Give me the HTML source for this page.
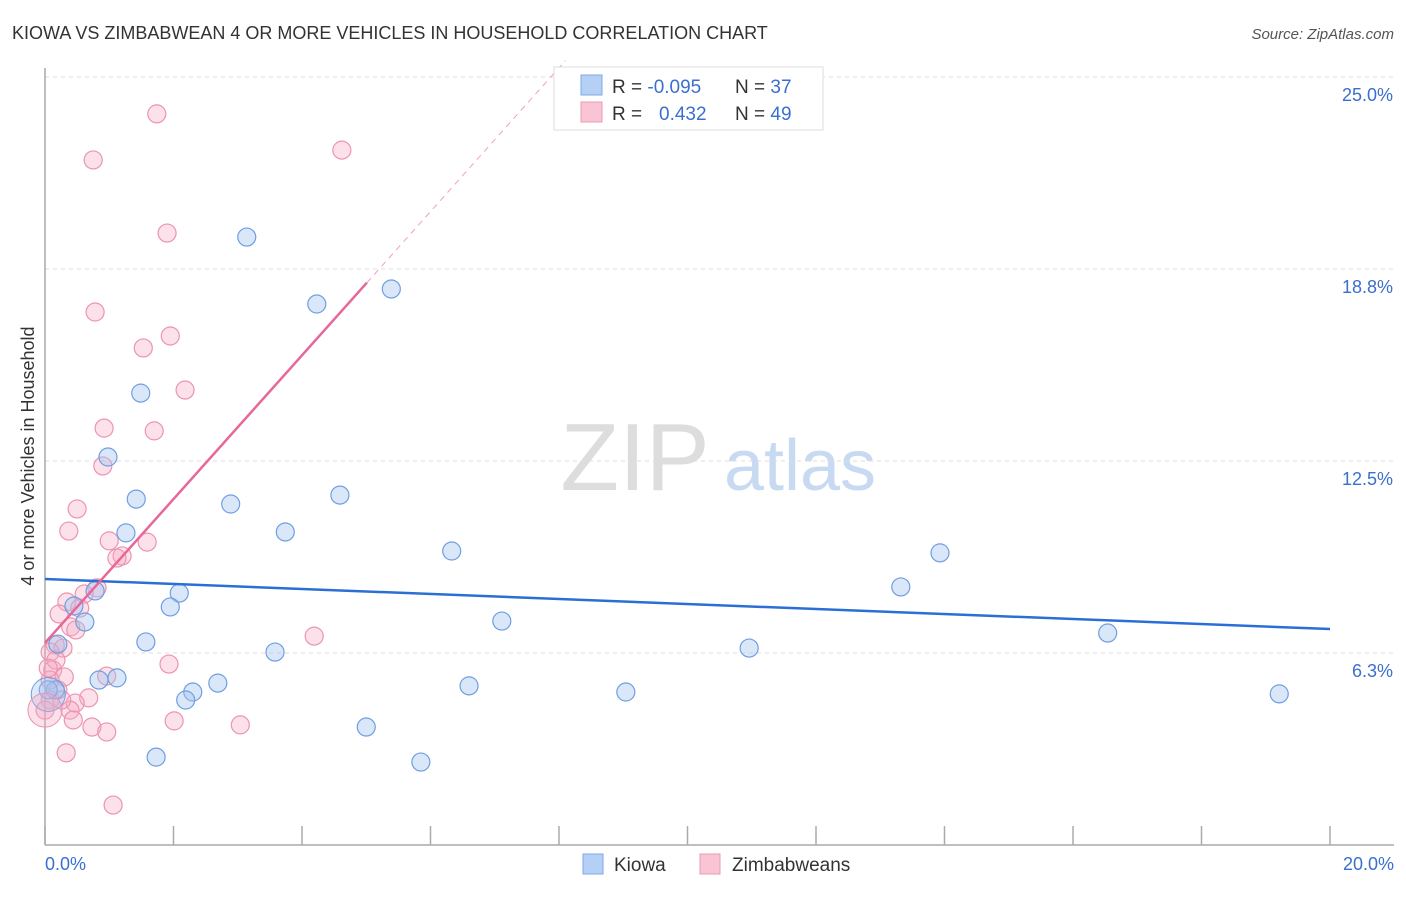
<!DOCTYPE html>
<html><head><meta charset="utf-8"><style>
body{margin:0;background:#fff;font-family:"Liberation Sans",sans-serif}
svg text{font-family:"Liberation Sans",sans-serif}
</style></head><body>
<svg id="chart" width="1406" height="892" xmlns="http://www.w3.org/2000/svg">
<text x="12" y="39" font-size="18" fill="#333">KIOWA VS ZIMBABWEAN 4 OR MORE VEHICLES IN HOUSEHOLD CORRELATION CHART</text>
<text x="1394" y="39" font-size="15" fill="#555" font-style="italic" text-anchor="end">Source: ZipAtlas.com</text>
<text x="635" y="490" font-size="96" fill="#ddd" font-family="Liberation Serif" text-anchor="middle">ZIP</text>
<text x="800" y="490" font-size="72" fill="#c8daf2" text-anchor="middle">atlas</text>
<g id="grid"></g>
<g id="axes"></g>
<g id="points"></g>
<g id="trends"></g>
<text transform="translate(34,456) rotate(-90)" font-size="18" fill="#333" text-anchor="middle">4 or more Vehicles in Household</text>
<text x="45" y="870" font-size="18" fill="#3a6fd0">0.0%</text>
<text x="1394" y="870" font-size="18" fill="#3a6fd0" text-anchor="end">20.0%</text>
<g>
<rect x="554" y="67" width="269" height="63" fill="#fff" stroke="#ddd"/>
<rect x="581" y="75" width="21" height="20" fill="#b5d0f5" stroke="#7ea8e5"/>
<rect x="581" y="102" width="21" height="20" fill="#f9c5d5" stroke="#ea9ab3"/>
<text x="612" y="93" font-size="19" fill="#333">R = <tspan fill="#3a6fd0">-0.095</tspan><tspan x="735">N = </tspan><tspan fill="#3a6fd0">37</tspan></text>
<text x="612" y="120" font-size="19" fill="#333">R = <tspan x="659" fill="#3a6fd0">0.432</tspan><tspan x="735">N = </tspan><tspan fill="#3a6fd0">49</tspan></text>
</g>
<g>
<rect x="583" y="854" width="20" height="20" fill="#b5d0f5" stroke="#7ea8e5"/>
<text x="614" y="871" font-size="19" fill="#333">Kiowa</text>
<text x="732" y="871" font-size="19" fill="#333">Zimbabweans</text>
<rect x="700" y="854" width="20" height="20" fill="#f9c5d5" stroke="#ea9ab3"/>
</g>
</svg>
<script>
const yTicks=[6.25,12.5,18.75,25];
const yTickLabels=["6.3%","12.5%","18.8%","25.0%"];
const xTicks=[0,2,4,6,8,10,12,14,16,18,20];
const kiowaX=[3.14,4.23,5.39,1.49,0.98,1.42,2.89,4.59,1.26,3.74,6.33,13.93,13.32,0.78,2.09,0.45,1.95,0.62,7.11,16.54,1.57,0.20,3.58,10.96,0.84,1.12,2.69,6.60,2.30,2.19,0.16,9.04,19.21,5.00,1.73,5.85,0.05];
const kiowaY=[19.79,17.61,18.10,14.71,12.63,11.26,11.10,11.39,10.16,10.19,9.57,9.51,8.40,8.27,8.20,7.78,7.75,7.26,7.29,6.90,6.61,6.54,6.28,6.41,5.37,5.44,5.27,5.18,4.98,4.72,5.05,4.98,4.92,3.84,2.86,2.70,5.05];
const zimX=[1.74,0.75,4.62,1.90,0.78,1.95,1.53,2.18,0.92,1.70,0.90,0.50,0.37,1.00,1.59,1.20,1.12,0.81,0.61,0.34,0.54,0.22,0.40,0.48,4.19,0.16,0.28,0.08,1.93,0.12,0.96,0.30,0.08,0.20,0.08,0.68,0.47,0.39,2.01,3.04,0.73,0.96,0.44,0.33,1.06,0.00,0.17,0.05,0.26];
const zimY=[23.80,22.30,22.62,19.92,17.35,16.57,16.18,14.81,13.57,13.48,12.34,10.94,10.22,9.90,9.86,9.41,9.34,8.37,8.17,7.91,7.71,7.52,7.10,7.00,6.80,6.51,6.41,6.28,5.89,5.70,5.50,5.47,5.37,5.05,4.72,4.79,4.62,4.39,4.04,3.91,3.84,3.68,4.07,3.00,1.30,4.39,6.02,5.76,4.72];
const kiowaTrend=[8.66,7.03];
const zimTrend=[6.58,2.34];
const NS="http://www.w3.org/2000/svg";
const sx=v=>45+v*64.25, sy=v=>845-v*30.72;
function mk(tag,attrs,parent){const e=document.createElementNS(NS,tag);for(const k in attrs)e.setAttribute(k,attrs[k]);document.getElementById(parent).appendChild(e);return e;}
yTicks.forEach((t,i)=>{
 const l=mk('line',{x1:45,x2:1394,y1:sy(t),y2:sy(t),stroke:'#ddd','stroke-dasharray':'4,4'},'grid');
 
 
 const tx=mk('text',{x:1393,y:sy(t)+24,'font-size':18,fill:'#3a6fd0','text-anchor':'end'},'grid');
 tx.textContent=yTickLabels[i];
 
 
});
const ax=mk('line',{x1:45,x2:45,y1:68,y2:845,stroke:'#aaa','stroke-width':1.5},'axes');


const bx=mk('line',{x1:45,x2:1394,y1:845,y2:845,stroke:'#aaa','stroke-width':1.5},'axes');


xTicks.forEach(t=>{
 const l=mk('line',{x1:sx(t),x2:sx(t),y1:826,y2:845,stroke:'#aaa','stroke-width':1.5},'axes');
 
 
});
zimX.forEach((x,i)=>{
 const c=mk('circle',{cx:sx(x),cy:sy(zimY[i]),r:9,fill:'rgba(246,170,195,0.35)',stroke:'#ec94b0','stroke-width':1.2},'points');
 
 
});
kiowaX.forEach((x,i)=>{
 const c=mk('circle',{cx:sx(x),cy:sy(kiowaY[i]),r:9,fill:'rgba(160,195,240,0.4)',stroke:'#6f9ee2','stroke-width':1.2},'points');
 
 
});
const big1=mk('circle',{cx:sx(0.05),cy:sy(4.9),r:17,fill:'rgba(160,195,240,0.35)',stroke:'#6f9ee2'},'points');


const big2=mk('circle',{cx:sx(0),cy:sy(4.39),r:17,fill:'rgba(246,170,195,0.35)',stroke:'#ec94b0'},'points');


const bt=mk('line',{x1:sx(0),y1:sy(kiowaTrend[0]),x2:sx(20),y2:sy(kiowaTrend[1]),stroke:'#2b6fd6','stroke-width':2.5},'trends');


const pEnd=5.01, pDash=8.1;
const pt=mk('line',{x1:sx(0),y1:sy(zimTrend[0]),x2:sx(pEnd),y2:sy(zimTrend[0]+zimTrend[1]*pEnd),stroke:'#e8679a','stroke-width':2.5},'trends');


const pd=mk('line',{x1:sx(pEnd),y1:sy(zimTrend[0]+zimTrend[1]*pEnd),x2:sx(pDash),y2:sy(zimTrend[0]+zimTrend[1]*pDash),stroke:'#f0a0bd','stroke-width':1,'stroke-dasharray':'6,5'},'trends');


</script>
</body></html>
